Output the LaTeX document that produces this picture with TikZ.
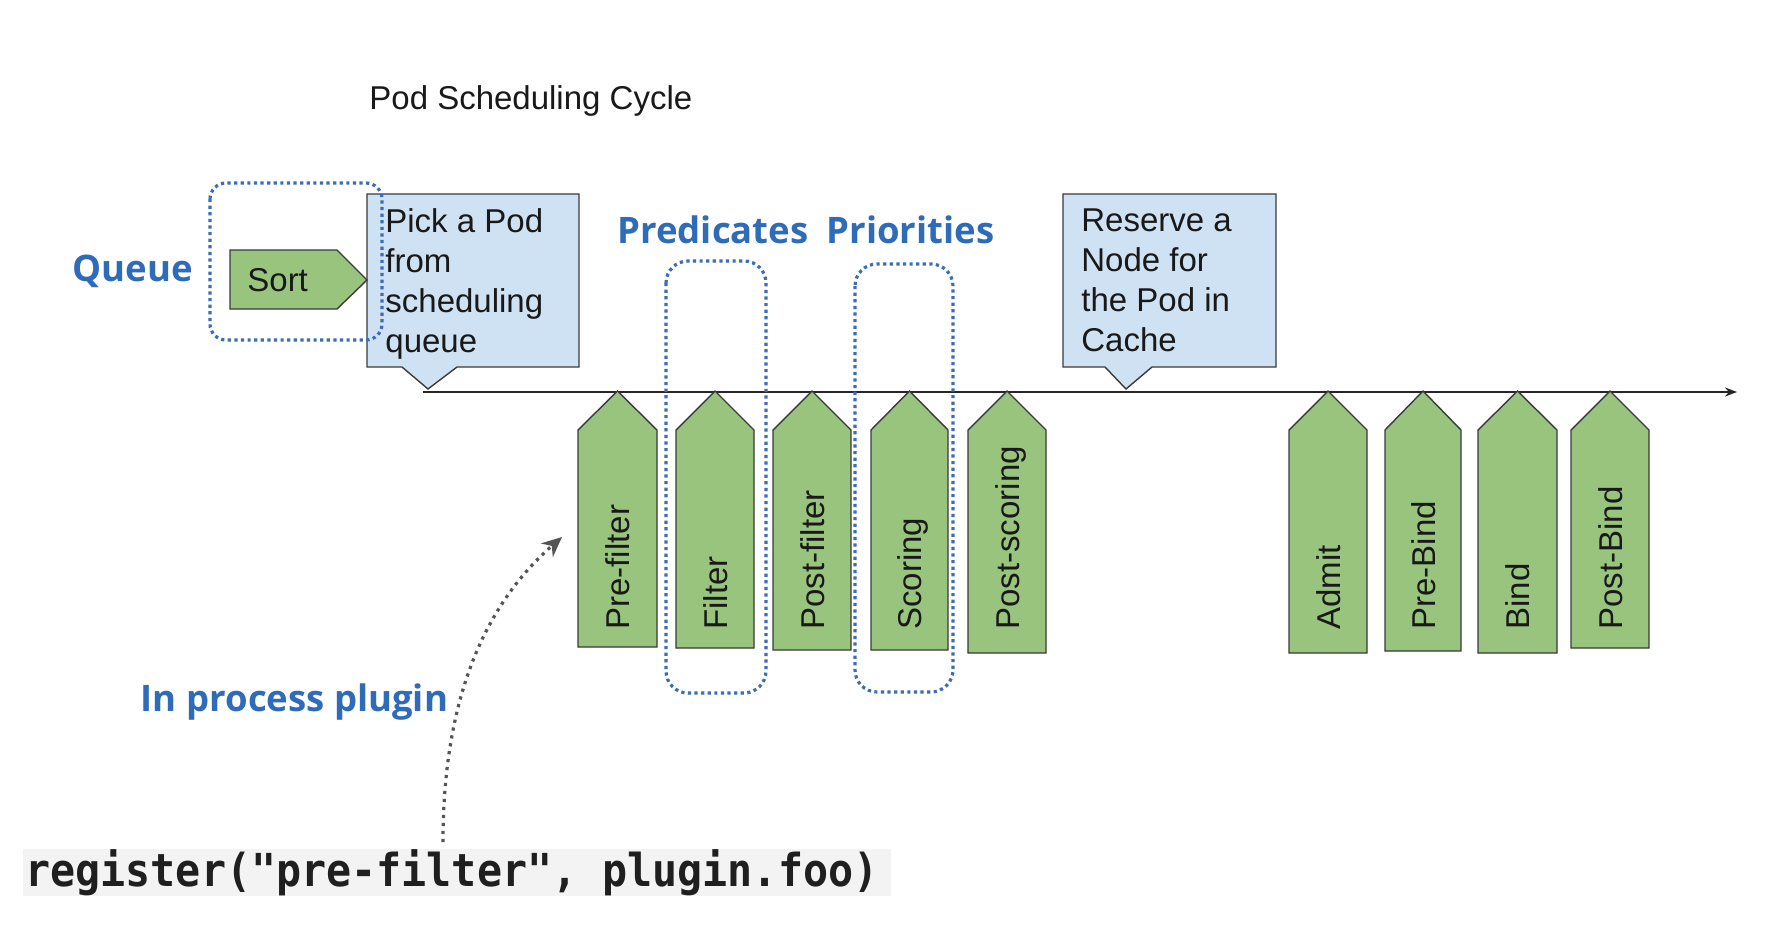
\documentclass[tikz,border=0pt]{standalone}
\usepackage{fontspec}
\setmainfont{Liberation Sans}
\newfontfamily\labfont{Open Sans}
\newfontfamily\codefont{DejaVu Sans Mono}[FakeStretch=0.918]
\usetikzlibrary{arrows.meta}
\definecolor{grn}{HTML}{98C47E}
\definecolor{lblue}{HTML}{CFE2F3}
\definecolor{bordc}{HTML}{3A3A3A}
\definecolor{dblue}{HTML}{3B6DB8}
\definecolor{labblue}{HTML}{2E6BB8}
\definecolor{codebg}{HTML}{F3F3F3}
\definecolor{arrgray}{HTML}{555555}
\newcommand\pentbox[5]{%
  \draw[greenbox] (#2,#4) -- (#2,430) -- ({(#2+#3)/2},391) -- (#3,430) -- (#3,#4) -- cycle;
  \node[steptext, rotate=90, anchor=base west] (#1) at ({(#2+#3)/2+12},630) {#5};
}
\begin{document}
\begin{tikzpicture}[x=0.5pt,y=-0.5pt,
  greenbox/.style={fill=grn, draw=bordc, line width=0.7pt, line join=miter},
  callbox/.style={fill=lblue, draw=bordc, line width=0.7pt},
  steptext/.style={inner sep=0pt, font=\fontsize{16.5pt}{20pt}\selectfont, text=black!90},
  boxtext/.style={inner sep=0pt, align=left, font=\fontsize{16.5pt}{20pt}\selectfont, text=black!90},
  dotbox/.style={draw=dblue, line width=1.6pt, dash pattern=on 1.6pt off 1.7pt, rounded corners=8pt},
  bluelab/.style={inner sep=0pt, text=labblue, font=\labfont\bfseries\fontsize{18.25pt}{22pt}\selectfont},
  tline/.style={draw=black!85, line width=0.75pt, -{Stealth[length=6pt,width=4.5pt]}},
  plugarrow/.style={draw=arrgray, line width=1.6pt, dash pattern=on 1.6pt off 2.4pt, -{Stealth[length=10pt,width=9pt]}},
  codetext/.style={inner sep=0pt, font=\codefont\bfseries\fontsize{22.7pt}{26pt}\selectfont, text=black!88}
]
\useasboundingbox[fill=white] (0,0) rectangle (1779,932);

% title
\node[steptext, anchor=base west] (title) at (369,109) {Pod Scheduling Cycle};

% callout boxes
\draw[callbox] (367,194) -- (579,194) -- (579,367) -- (457,367) -- (428,389) -- (402,367) -- (367,367) -- cycle;
\node[boxtext, anchor=north west] (pick) at (385,208) {Pick a Pod\\from\\scheduling\\queue};
\draw[callbox] (1063,194) -- (1276,194) -- (1276,367) -- (1152,367) -- (1126,389) -- (1105,367) -- (1063,367) -- cycle;
\node[boxtext, anchor=north west] (reserve) at (1081,208) {Reserve a\\Node for\\the Pod in\\Cache};

% timeline
\coordinate (tlstart) at (423,392);
\coordinate (tlend) at (1737,392);
\draw[tline] (tlstart) -- (tlend);

% extension points
\pentbox{prefilter}{578}{657}{647}{Pre-filter}
\pentbox{filter}{676}{754}{648}{Filter}
\pentbox{postfilter}{773}{851}{650}{Post-filter}
\pentbox{scoring}{871}{948}{650}{Scoring}
\pentbox{postscoring}{968}{1046}{653}{Post-scoring}
\pentbox{admit}{1289}{1367}{653}{Admit}
\pentbox{prebind}{1385}{1461}{651}{Pre-Bind}
\pentbox{bind}{1478}{1557}{653}{Bind}
\pentbox{postbind}{1571}{1649}{648}{Post-Bind}

% sort
\draw[greenbox] (230,250) -- (337,250) -- (367,280) -- (337,309) -- (230,309) -- cycle;
\node[steptext, anchor=base west] (sort) at (247,291) {Sort};

% dotted groups
\draw[dotbox] (210,183) rectangle (382,340);
\draw[dotbox, rounded corners=11pt] (666,261) rectangle (766,693);
\draw[dotbox, rounded corners=11pt] (855,264) rectangle (953,692);

% labels
\node[bluelab] (queue) at (132.5,271) {Queue};
\node[bluelab] (predicates) at (713,230) {Predicates};
\node[bluelab] (priorities) at (910.5,230) {Priorities};
\node[bluelab] (inproc) at (294.5,702) {In process plugin};

% code
\fill[codebg] (23,849) rectangle (891,896);
\node[codetext, anchor=west] (code) at (25,872.5) {register("pre-filter", plugin.foo)};
\coordinate (cstart) at (443,842);
\coordinate (ctip) at (562,537);
\draw[plugarrow] (cstart) .. controls (443,690) and (490,600) .. (ctip);
\end{tikzpicture}
\end{document}
